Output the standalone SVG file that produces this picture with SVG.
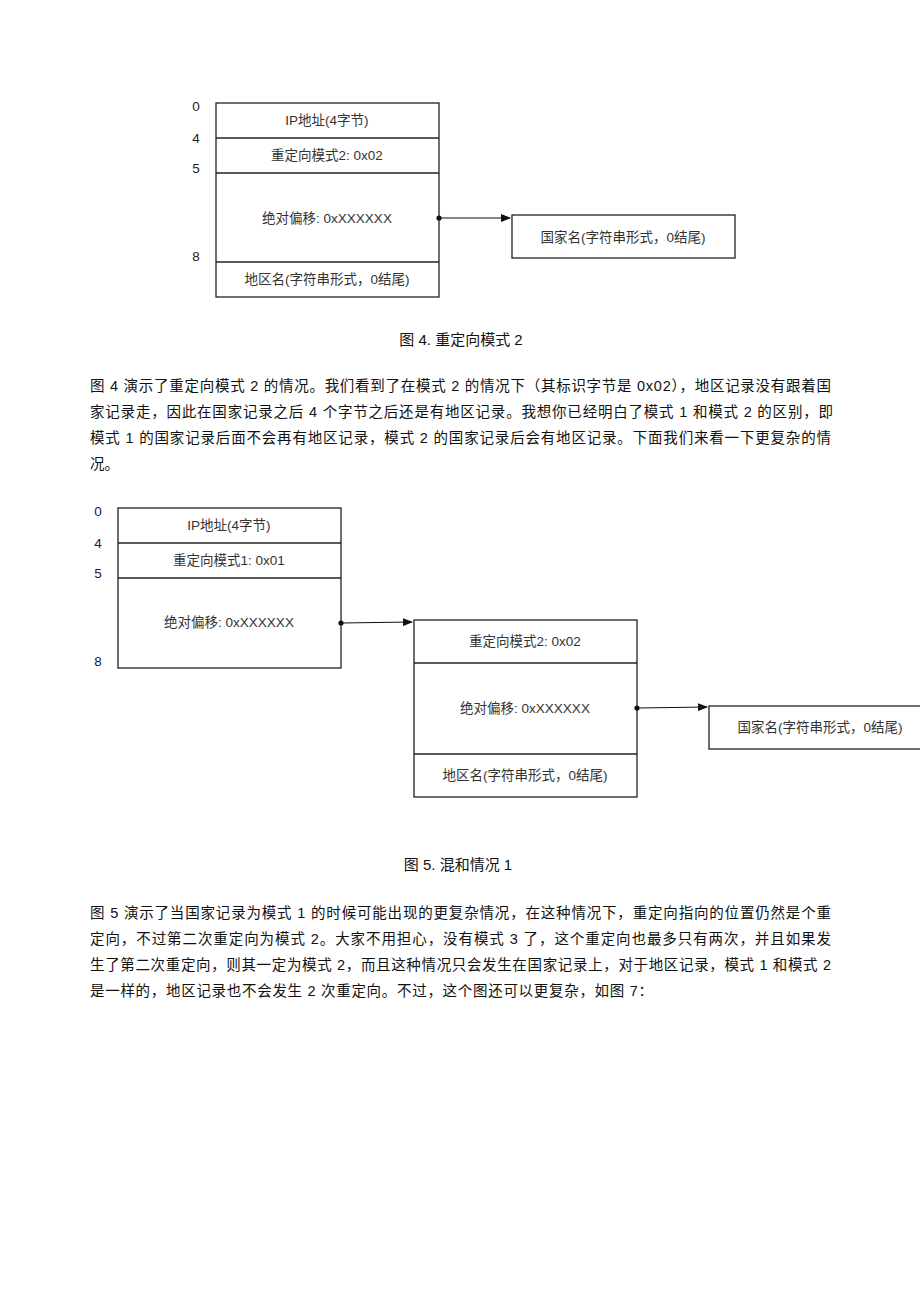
<svg xmlns="http://www.w3.org/2000/svg" width="920" height="1302" viewBox="0 0 920 1302">
<style>
.box{fill:#fff;stroke:#222;stroke-width:1.3}
.sep{stroke:#222;stroke-width:1.3}
.bt{font-family:"Liberation Sans","Noto Sans CJK SC",sans-serif;font-size:13.5px;fill:#333;text-anchor:middle}
.off{font-family:"Liberation Sans",sans-serif;font-size:13.5px;fill:#222;text-anchor:middle}
.cap{font-family:"Liberation Sans","Noto Sans CJK SC",sans-serif;font-size:15px;fill:#111;text-anchor:middle}
.p{font-family:"Liberation Sans","Noto Sans CJK SC",sans-serif;font-size:14.5px;fill:#111}
.conn{stroke:#111;stroke-width:1.2;fill:none}
</style>
<defs>
<marker id="arr" markerWidth="10" markerHeight="8" refX="9" refY="4" orient="auto" markerUnits="userSpaceOnUse">
<path d="M0,0 L10,4 L0,8 z" fill="#111"/>
</marker>
</defs>
<rect width="920" height="1302" fill="#fff"/>

<!-- Figure 4 -->
<g id="fig4-record">
<rect class="box" x="216" y="103" width="223" height="194"/>
<line class="sep" x1="216" y1="138" x2="439" y2="138"/>
<line class="sep" x1="216" y1="173" x2="439" y2="173"/>
<line class="sep" x1="216" y1="262" x2="439" y2="262"/>
<text class="bt" x="327" y="125">IP地址(4字节)</text>
<text class="bt" x="327" y="160">重定向模式2: 0x02</text>
<text class="bt" x="327" y="223">绝对偏移: 0xXXXXXX</text>
<text class="bt" x="327" y="284">地区名(字符串形式，0结尾)</text>
</g>
<g id="fig4-offsets">
<text class="off" x="196" y="111">0</text>
<text class="off" x="196" y="143">4</text>
<text class="off" x="196" y="173">5</text>
<text class="off" x="196" y="261">8</text>
</g>
<g id="fig4-country">
<rect class="box" x="512" y="215" width="223" height="43"/>
<text class="bt" x="623" y="242">国家名(字符串形式，0结尾)</text>
</g>

<!-- Figure 5 -->
<g id="fig5-record">
<rect class="box" x="118" y="508" width="223" height="160"/>
<line class="sep" x1="118" y1="543" x2="341" y2="543"/>
<line class="sep" x1="118" y1="578" x2="341" y2="578"/>
<text class="bt" x="229" y="530">IP地址(4字节)</text>
<text class="bt" x="229" y="565">重定向模式1: 0x01</text>
<text class="bt" x="229" y="627">绝对偏移: 0xXXXXXX</text>
</g>
<g id="fig5-offsets">
<text class="off" x="98" y="516">0</text>
<text class="off" x="98" y="548">4</text>
<text class="off" x="98" y="578">5</text>
<text class="off" x="98" y="666">8</text>
</g>
<g id="fig5-redirect">
<rect class="box" x="414" y="620" width="223" height="177"/>
<line class="sep" x1="414" y1="663" x2="637" y2="663"/>
<line class="sep" x1="414" y1="754" x2="637" y2="754"/>
<text class="bt" x="525" y="646">重定向模式2: 0x02</text>
<text class="bt" x="525" y="713">绝对偏移: 0xXXXXXX</text>
<text class="bt" x="525" y="780">地区名(字符串形式，0结尾)</text>
</g>
<g id="fig5-country">
<rect class="box" x="709" y="706" width="220" height="43"/>
<text class="bt" x="820" y="732">国家名(字符串形式，0结尾)</text>
</g>

<g id="connectors">
<line class="conn" x1="439" y1="218" x2="510" y2="218" marker-end="url(#arr)"/>
<circle cx="439" cy="218" r="2.6" fill="#111"/>
<line class="conn" x1="341" y1="623" x2="412" y2="622" marker-end="url(#arr)"/>
<circle cx="341" cy="623" r="2.6" fill="#111"/>
<line class="conn" x1="637" y1="708" x2="707" y2="707" marker-end="url(#arr)"/>
<circle cx="637" cy="708" r="2.6" fill="#111"/>
</g>

<g id="captions">
<text class="cap" x="461" y="345">图 4. 重定向模式 2</text>
<text class="cap" x="458" y="870">图 5. 混和情况 1</text>
</g>

<g id="paragraph-1">
<text class="p" x="90" y="391" textLength="741" lengthAdjust="spacing">图 4 演示了重定向模式 2 的情况。我们看到了在模式 2 的情况下（其标识字节是 0x02），地区记录没有跟着国</text>
<text class="p" x="90" y="417" textLength="743" lengthAdjust="spacing">家记录走，因此在国家记录之后 4 个字节之后还是有地区记录。我想你已经明白了模式 1 和模式 2 的区别，即</text>
<text class="p" x="90" y="443" textLength="741" lengthAdjust="spacing">模式 1 的国家记录后面不会再有地区记录，模式 2 的国家记录后会有地区记录。下面我们来看一下更复杂的情</text>
<text class="p" x="90" y="469">况。</text>
</g>

<g id="paragraph-2">
<text class="p" x="90" y="918" textLength="741" lengthAdjust="spacing">图 5 演示了当国家记录为模式 1 的时候可能出现的更复杂情况，在这种情况下，重定向指向的位置仍然是个重</text>
<text class="p" x="90" y="944" textLength="741" lengthAdjust="spacing">定向，不过第二次重定向为模式 2。大家不用担心，没有模式 3 了，这个重定向也最多只有两次，并且如果发</text>
<text class="p" x="90" y="970" textLength="741" lengthAdjust="spacing">生了第二次重定向，则其一定为模式 2，而且这种情况只会发生在国家记录上，对于地区记录，模式 1 和模式 2</text>
<text class="p" x="90" y="996" textLength="563" lengthAdjust="spacing">是一样的，地区记录也不会发生 2 次重定向。不过，这个图还可以更复杂，如图 7：</text>
</g>
</svg>
